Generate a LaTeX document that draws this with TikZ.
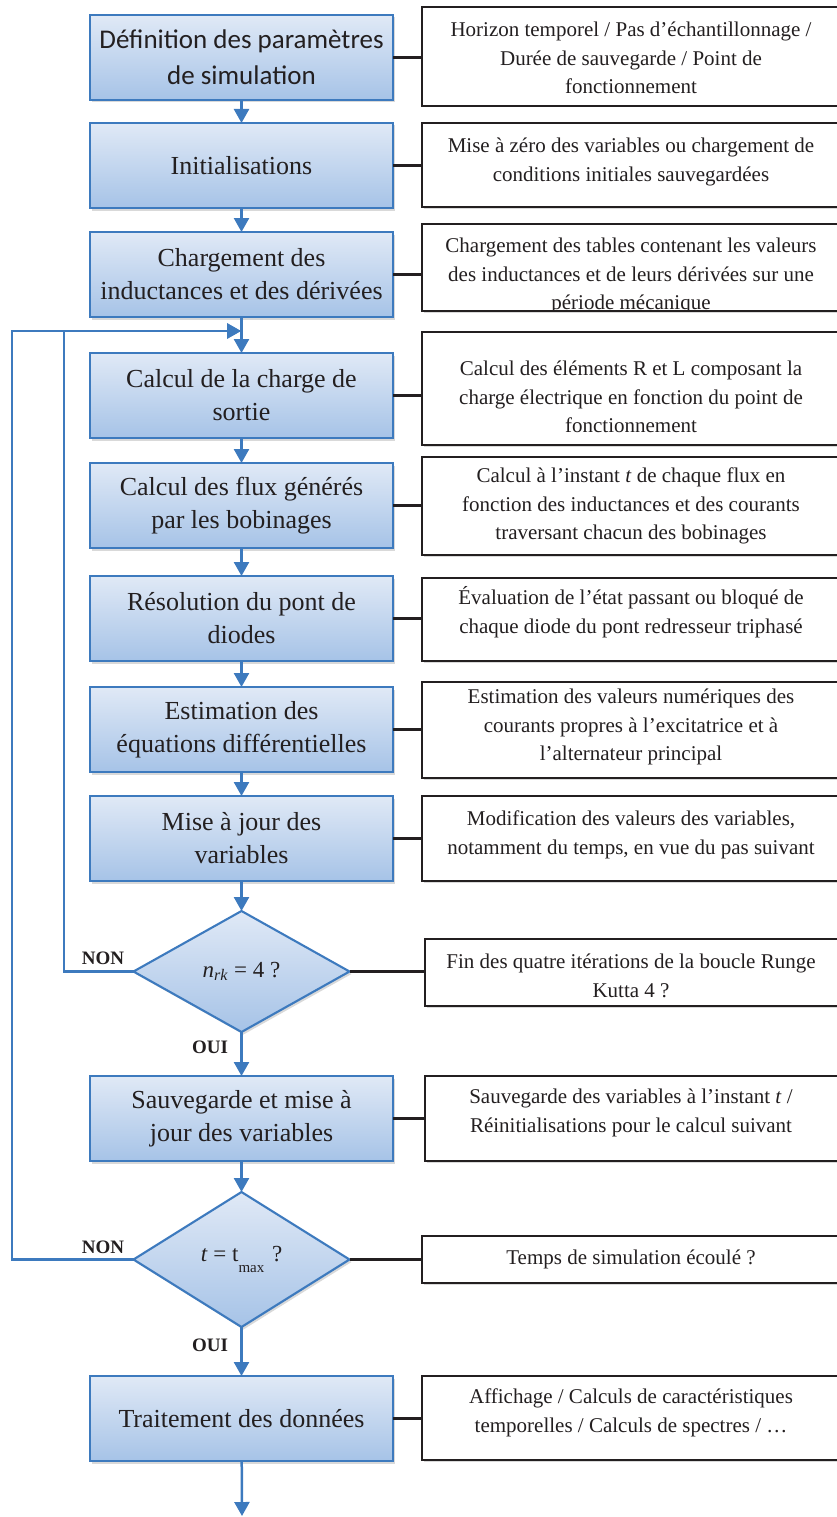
\documentclass[tikz,border=0pt]{standalone}
\usepackage{fontspec}
\setmainfont{Liberation Serif}
\newfontfamily\calibrifont{Carlito}
\usetikzlibrary{positioning,arrows.meta,shapes.geometric,shadows}
\definecolor{flowblue}{RGB}{61,122,190}
\definecolor{boxtop}{RGB}{224,233,246}
\definecolor{boxbot}{RGB}{166,195,231}
\definecolor{inkgray}{RGB}{35,31,32}

\begin{document}
\begin{tikzpicture}[x=1pt, y=-1pt,
  node distance=24pt,
  box/.style={draw=flowblue, line width=2.1pt, top color=boxtop, bottom color=boxbot, minimum width=303pt, minimum height=85pt, inner sep=0pt, outer sep=0pt, align=center, text=inkgray, font=\fontsize{26}{33}\selectfont, drop shadow={shadow xshift=2pt, shadow yshift=-2.5pt, opacity=0.3}},
  test/.style={box, diamond, aspect=1.8, minimum width=216pt, minimum height=121pt, font=\fontsize{23}{26}\selectfont},
  note/.style={draw=inkgray, line width=2.8pt, fill=white, minimum width=418pt, inner sep=0pt, outer sep=0pt, anchor=north west, drop shadow={shadow xshift=1.5pt, shadow yshift=-1.5pt, opacity=0.3}},
  notetxt/.style={align=center, text=inkgray, font=\fontsize{21}{28.5}\selectfont},
  arr/.style={draw=flowblue, line width=2.5pt, -{Triangle[length=14pt,width=15pt]}},
  link/.style={draw=inkgray, line width=2.6pt},
  answer/.style={text=inkgray, font=\bfseries\fontsize{19}{22}\selectfont}
]
\useasboundingbox (0,0) rectangle (837,1517);

% main column
\node[box, font=\calibrifont\fontsize{27}{36}\selectfont] (def) at (241.5,57.5) {Définition des paramètres\\de simulation};
\node[box, below=23pt of def] (init) {Initialisations};
\node[box, below=24pt of init] (load) {Chargement des\\inductances et des dérivées};
\node[box, below=36pt of load] (charge) {Calcul de la charge de\\sortie};
\node[box, below=25pt of charge] (flux) {Calcul des flux générés\\par les bobinages};
\node[box, below=28pt of flux] (diodes) {Résolution du pont de\\diodes};
\node[box, below=26pt of diodes] (eqdiff) {Estimation des\\équations différentielles};
\node[box, below=24pt of eqdiff] (update) {Mise à jour des\\variables};
\node[test, below=30pt of update] (rk) {\textit{n}\textsubscript{\textit{rk}} = 4 ?};
\node[box, below=44pt of rk] (save) {Sauvegarde et mise à\\jour des variables};
\node[test, minimum height=135pt, below=31pt of save] (tmax) {\textit{t} = t\raisebox{-0.5em}{\fontsize{15}{15}\selectfont max}\,\,?};
\node[box, below=49pt of tmax] (post) {Traitement des données};

% comment boxes
\node[note, minimum height=99pt] (r1) at (422,7) {};
\node[note, minimum height=84pt] (r2) at (422,123) {};
\node[note, minimum height=87pt] (r3) at (422,224) {};
\node[note, minimum height=113pt] (r4) at (422,332) {};
\node[note, minimum height=98pt] (r5) at (422,457) {};
\node[note, minimum height=83pt] (r6) at (422,578) {};
\node[note, minimum height=96pt] (r7) at (422,682) {};
\node[note, minimum height=85pt] (r8) at (422,796) {};
\node[note, minimum height=67pt] (r9) at (425,939) {};
\node[note, minimum height=85pt] (r10) at (425,1076) {};
\node[note, minimum height=47pt] (r11) at (422,1236) {};
\node[note, minimum height=84pt] (r12) at (422,1376) {};

\begin{scope}
\clip (r1.south west) rectangle (r1.north east) (r2.south west) rectangle (r2.north east)
  (r3.south west) rectangle (r3.north east) (r4.south west) rectangle (r4.north east)
  (r5.south west) rectangle (r5.north east) (r6.south west) rectangle (r6.north east)
  (r7.south west) rectangle (r7.north east) (r8.south west) rectangle (r8.north east)
  (r9.south west) rectangle (r9.north east) (r10.south west) rectangle (r10.north east)
  (r11.south west) rectangle (r11.north east) (r12.south west) rectangle (r12.north east);
\node[notetxt] (t1) at (631,58) {Horizon temporel / Pas d’échantillonnage /\\Durée de sauvegarde / Point de\\fonctionnement};
\node[notetxt] (t2) at (631,162) {Mise à zéro des variables ou chargement de\\conditions initiales sauvegardées};
\node[notetxt] (t3) at (631,276) {Chargement des tables contenant les valeurs\\des inductances et de leurs dérivées sur une\\période mécanique};
\node[notetxt] (t4) at (631,397) {Calcul des éléments R et L composant la\\charge électrique en fonction du point de\\fonctionnement};
\node[notetxt] (t5) at (631,506) {Calcul à l’instant \textit{t} de chaque flux en\\fonction des inductances et des courants\\traversant chacun des bobinages};
\node[notetxt] (t6) at (631,612) {Évaluation de l’état passant ou bloqué de\\chaque diode du pont redresseur triphasé};
\node[notetxt] (t7) at (631,727) {Estimation des valeurs numériques des\\courants propres à l’excitatrice et à\\l’alternateur principal};
\node[notetxt] (t8) at (631,835) {Modification des valeurs des variables,\\notamment du temps, en vue du pas suivant};
\node[notetxt] (t9) at (631,976) {Fin des quatre itérations de la boucle Runge\\Kutta 4 ?};
\node[notetxt] (t10) at (631,1113) {Sauvegarde des variables à l’instant \textit{t} /\\Réinitialisations pour le calcul suivant};
\node[notetxt] (t11) at (631,1259) {Temps de simulation écoulé ?};
\node[notetxt] (t12) at (631,1413) {Affichage / Calculs de caractéristiques\\temporelles / Calculs de spectres / …};
\end{scope}

% links to comments
\foreach \a/\b in {def/r1, init/r2, load/r3, charge/r4, flux/r5, diodes/r6, eqdiff/r7, update/r8, rk/r9, save/r10, tmax/r11, post/r12}
  \draw[link] (\a.east) -- (\a.east -| \b.west);

% flow
\coordinate (merge) at (241,331);
\coordinate (inner) at (64,331);
\coordinate (outer) at (12,331);
\coordinate (exit) at (242,1516);
\draw[arr] (def) -- (init);
\draw[arr] (init) -- (load);
\draw[arr] (load) -- (charge);
\draw[arr] (charge) -- (flux);
\draw[arr] (flux) -- (diodes);
\draw[arr] (diodes) -- (eqdiff);
\draw[arr] (eqdiff) -- (update);
\draw[arr] (update) -- (rk);
\draw[arr] (rk) -- (save);
\draw[arr] (save) -- (tmax);
\draw[arr] (tmax) -- (post);
\draw[arr] (post) -- (exit);
\draw[arr] (rk.west) -| (inner) -- (merge);
\draw[arr] (tmax.west) -| (outer) -- (merge);

\node[answer] (no1) at (103,958) {NON};
\node[answer] (yes1) at (210,1047) {OUI};
\node[answer] (no2) at (103,1247) {NON};
\node[answer] (yes2) at (210,1345) {OUI};
\end{tikzpicture}
\end{document}
